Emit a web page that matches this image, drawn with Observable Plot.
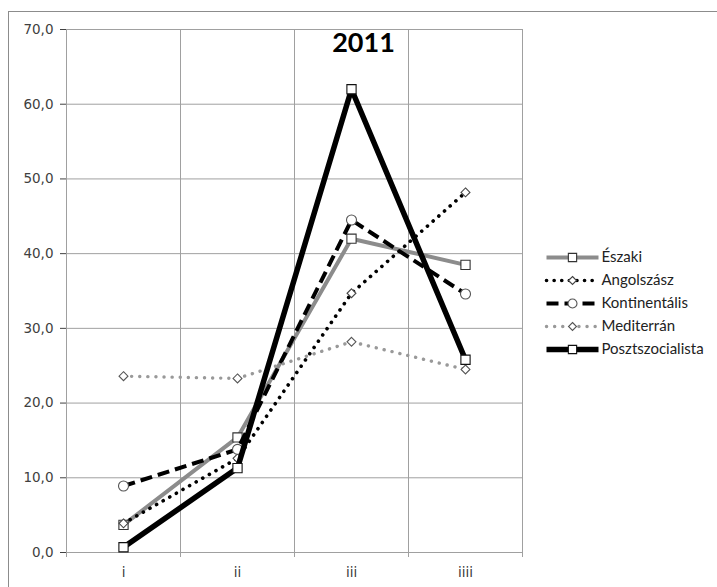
<!DOCTYPE html>
<html>
<head>
<meta charset="utf-8">
<script src="https://cdn.jsdelivr.net/npm/d3@7"></script>
<script src="https://cdn.jsdelivr.net/npm/@observablehq/plot@0.6"></script>
<style>
  html, body { margin: 0; padding: 0; background: #fff; }
  #wrap { position: relative; width: 717px; height: 587px; overflow: hidden; background: #fff; }
  #frame { position: absolute; left: 8px; top: 11px; right: 0; bottom: 0; border-top: 1px solid #8c8c8c; border-left: 1px solid #8c8c8c; }
  #chart { position: absolute; left: 0; top: 0; }
  #legend { position: absolute; left: 540px; top: 228px; }
  #title { position: absolute; left: 10px; right: 0; top: 25px; text-align: center; font-family: Lato, "Open Sans", sans-serif; font-weight: bold; font-size: 27px; color: #000; }
</style>
</head>
<body>
<div id="wrap">
  <div id="frame"></div>
  <div id="chart"></div>
  <div id="title">2011</div>
  <div id="legend"></div>
</div>
<script>
// ---- data ----
const categories = ["i", "ii", "iii", "iiii"];
const seriesNames = ["Északi", "Angolszász", "Kontinentális", "Mediterrán", "Posztszocialista"];
const eszaki = [3.7, 15.4, 42.0, 38.5];
const angolszasz = [3.9, 12.6, 34.7, 48.2];
const kontinentalis = [8.9, 13.8, 44.5, 34.6];
const mediterran = [23.6, 23.3, 28.2, 24.5];
const posztszocialista = [0.7, 11.3, 62.0, 25.8];
const yTicks = [0, 10, 20, 30, 40, 50, 60, 70];
const title = "2011";

const seriesValues = [eszaki, angolszasz, kontinentalis, mediterran, posztszocialista];

// ---- styles ----
const styles = {
  "Északi":           {stroke: "#8c8c8c", strokeWidth: 4,   dash: null,        cap: "butt",  symbol: "square",   r: 5.2, mstroke: "#333"},
  "Angolszász":       {stroke: "#000",    strokeWidth: 3.6, dash: "0.1 7.5",   cap: "round", symbol: "diamond2", r: 4.0, mstroke: "#444"},
  "Kontinentális":    {stroke: "#000",    strokeWidth: 4,   dash: "12 6",      cap: "butt",  symbol: "circle",   r: 5.0, mstroke: "#555"},
  "Mediterrán":       {stroke: "#999",    strokeWidth: 3.4, dash: "0.1 8",     cap: "round", symbol: "diamond2", r: 4.0, mstroke: "#555"},
  "Posztszocialista": {stroke: "#000",    strokeWidth: 5.5, dash: null,        cap: "butt",  symbol: "square",   r: 5.2, mstroke: "#111"}
};

// table built from arrays
const rows = [];
seriesNames.forEach((name, s) => {
  seriesValues[s].forEach((v, i) => rows.push({series: name, cat: categories[i], idx: i + 0.5, value: v}));
});

const fmt = d => d.toFixed(1).replace(".", ",");
const gridColor = "#a0a0a0";
const boundaries = d3.range(0, categories.length + 1);

const marks = [
  Plot.ruleY(yTicks, {stroke: gridColor, strokeWidth: 1}),
  Plot.ruleX(boundaries, {stroke: gridColor, strokeWidth: 1, insetBottom: -5})
];
seriesNames.forEach(name => {
  const st = styles[name];
  const data = rows.filter(r => r.series === name);
  marks.push(Plot.line(data, {
    x: "idx", y: "value", stroke: st.stroke, strokeWidth: st.strokeWidth,
    strokeDasharray: st.dash || undefined, strokeLinecap: st.cap, strokeLinejoin: "round"
  }));
  marks.push(Plot.dot(data, {
    x: "idx", y: "value", symbol: () => st.symbol, r: st.r, fill: "#fff", stroke: st.mstroke, strokeWidth: 1.1
  }));
});

const chart = Plot.plot({
  width: 717,
  height: 587,
  marginLeft: 66,
  marginRight: 195,
  marginTop: 29,
  marginBottom: 35,
  style: {fontFamily: "'DejaVu Sans', sans-serif", fontSize: "13.5px", color: "#404040", background: "transparent"},
  symbol: {type: "identity"},
  x: {domain: [0, categories.length], ticks: categories.map((c, i) => i + 0.5), tickFormat: d => categories[Math.floor(d)], tickSize: 0, tickPadding: 15, label: null},
  y: {domain: [0, 70], ticks: yTicks, tickFormat: fmt, tickSize: 6, tickPadding: 7, label: null},
  marks
});
document.getElementById("chart").appendChild(chart);

// ---- legend ----
const legRows = [];
seriesNames.forEach(name => { legRows.push({series: name, t: 0}); legRows.push({series: name, t: 1}); });
const legMarks = [];
seriesNames.forEach(name => {
  const st = styles[name];
  const d = legRows.filter(r => r.series === name);
  legMarks.push(Plot.line(d, {x: "t", y: "series", stroke: st.stroke, strokeWidth: st.strokeWidth,
    strokeDasharray: st.dash || undefined, strokeLinecap: st.cap}));
  legMarks.push(Plot.dot([{series: name, t: 0.5}], {x: "t", y: "series", symbol: () => st.symbol, r: st.r * 0.9,
    fill: "#fff", stroke: st.mstroke, strokeWidth: 1.1}));
});
legMarks.push(Plot.text(seriesNames.map(n => ({series: n, t: 1})), {x: "t", y: "series", text: "series",
  textAnchor: "start", dx: 3, fill: "#222"}));
const legend = Plot.plot({
  width: 177,
  height: 150,
  marginLeft: 6,
  marginRight: 119,
  marginTop: 15,
  marginBottom: 16,
  style: {fontFamily: "Lato, 'Open Sans', sans-serif", fontSize: "15px", background: "transparent", overflow: "visible"},
  symbol: {type: "identity"},
  x: {domain: [0, 1], axis: null},
  y: {type: "point", domain: seriesNames, axis: null},
  marks: legMarks
});
document.getElementById("legend").appendChild(legend);
</script>
</body>
</html>
